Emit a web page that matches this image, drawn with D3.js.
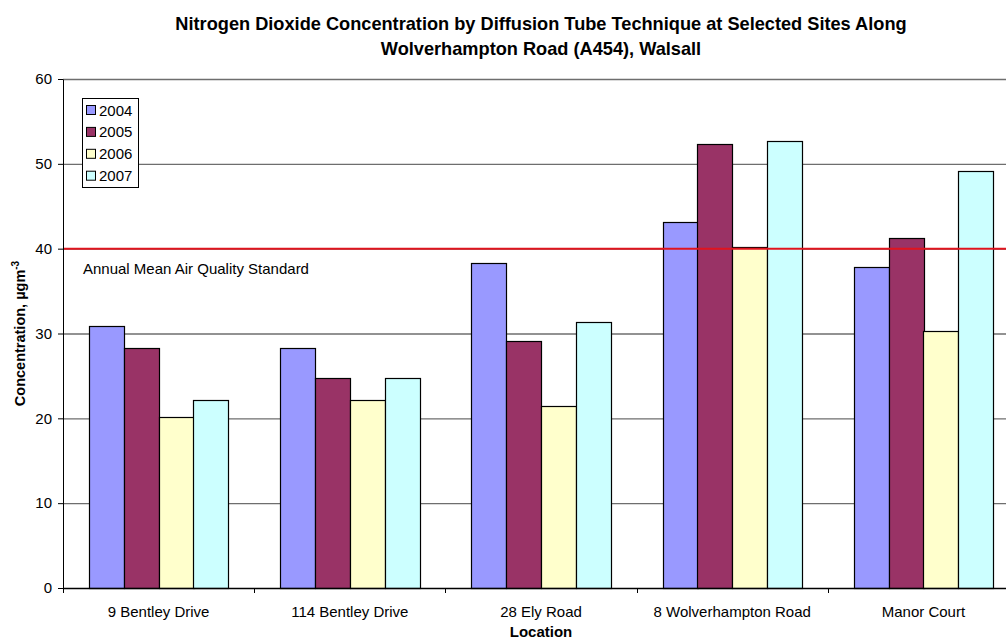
<!DOCTYPE html>
<html>
<head>
<meta charset="utf-8">
<script src="https://cdn.jsdelivr.net/npm/d3@7"></script>
<style>
  body { margin: 0; background: #fff; }
  text { font-family: "Liberation Sans", Arial, sans-serif; fill: #000; }
</style>
</head>
<body>
<div id="chart"></div>
<script>
// chart data
var locations = ['9 Bentley Drive', '114 Bentley Drive', '28 Ely Road', '8 Wolverhampton Road', 'Manor Court']
var years = ['2004', '2005', '2006', '2007']
var values2004 = [30.9, 28.3, 38.3, 43.1, 37.8]
var values2005 = [28.3, 24.8, 29.1, 52.3, 41.2]
var values2006 = [20.2, 22.2, 21.5, 40.2, 30.3]
var values2007 = [22.2, 24.7, 31.3, 52.7, 49.2]
var yTicks = [0, 10, 20, 30, 40, 50, 60]
var standardValue = 40
var standardLabel = 'Annual Mean Air Quality Standard'

var colors = ['#9999ff', '#993366', '#ffffcc', '#ccffff']
var seriesValues = [values2004, values2005, values2006, values2007]

var fullWidth = 1006;
var fullHeight = 640;
var margin = {top: 79, left: 63};
var width = 956;   // plot runs past the right edge of the picture
var height = 509;

var svg = d3.select('#chart').append('svg')
    .attr('width', fullWidth)
    .attr('height', fullHeight)

var g = svg.append('g')
    .attr('transform', 'translate(' + margin.left + ',' + margin.top + ')')

var x = d3.scaleBand().domain(locations).range([0, width]).paddingInner(0).paddingOuter(0)
var bandWidth = x.bandwidth()
var barWidth = bandWidth / 5.5
var xInner = d3.scaleBand().domain(years).range([barWidth * 0.75, bandWidth - barWidth * 0.75])
var y = d3.scaleLinear().domain([0, 60]).range([height, 0])

// gridlines
g.selectAll('.grid').data(yTicks.filter(function(d) { return d > 0 }))
  .enter().append('line')
    .attr('class', 'grid')
    .attr('x1', 0)
    .attr('x2', width)
    .attr('y1', function(d) { return y(d) + 0.5 })
    .attr('y2', function(d) { return y(d) + 0.5 })
    .attr('stroke', '#6e6e6e')
    .attr('stroke-width', 1.3)

// bars
var rows = []
for (var i = 0; i < locations.length; i++) {
  for (var s = 0; s < years.length; s++) {
    rows.push({loc: locations[i], year: years[s], value: seriesValues[s][i], color: colors[s]})
  }
}
g.selectAll('.bar').data(rows)
  .enter().append('rect')
    .attr('class', 'bar')
    .attr('x', function(d) { return Math.round(x(d.loc) + xInner(d.year)) + 0.5 })
    .attr('y', function(d) { return Math.round(y(d.value)) + 0.5 })
    .attr('width', Math.round(xInner.bandwidth()))
    .attr('height', function(d) { return Math.round(height - y(d.value)) })
    .attr('fill', function(d) { return d.color })
    .attr('stroke', '#000')
    .attr('stroke-width', 1.2)

// standard line
g.append('line')
  .attr('x1', 0)
  .attr('x2', width)
  .attr('y1', y(standardValue))
  .attr('y2', y(standardValue))
  .attr('stroke', '#e0141e')
  .attr('stroke-width', 2)

g.append('text')
  .attr('x', 20)
  .attr('y', y(standardValue) + 25)
  .style('font-size', '15px')
  .text(standardLabel)

// axes
var yAxis = g.append('g')
  .call(d3.axisLeft(y).tickValues(yTicks).tickSize(5).tickPadding(6).tickSizeOuter(0))
yAxis.selectAll('text').style('font-size', '15px')
yAxis.select('.domain').attr('stroke', '#000')

var xAxis = g.append('g')
  .attr('transform', 'translate(0,' + height + ')')
  .call(d3.axisBottom(x).tickSize(0).tickPadding(18))
xAxis.selectAll('text').style('font-size', '15px')
xAxis.select('.domain').attr('stroke', '#000').attr('stroke-width', 1.5)
xAxis.selectAll('.xtick').data(locations)
  .enter().append('line')
    .attr('class', 'xtick')
    .attr('x1', function(d) { return Math.round(x(d)) + 0.5 })
    .attr('x2', function(d) { return Math.round(x(d)) + 0.5 })
    .attr('y1', 0)
    .attr('y2', 5)
    .attr('stroke', '#000')

// titles
svg.append('text')
  .attr('x', margin.left + width / 2)
  .attr('y', 30)
  .attr('text-anchor', 'middle')
  .style('font-size', '18.2px')
  .style('font-weight', 'bold')
  .text('Nitrogen Dioxide Concentration by Diffusion Tube Technique at Selected Sites Along')
svg.append('text')
  .attr('x', margin.left + width / 2)
  .attr('y', 55)
  .attr('text-anchor', 'middle')
  .style('font-size', '18.2px')
  .style('font-weight', 'bold')
  .text('Wolverhampton Road (A454), Walsall')

svg.append('text')
  .attr('x', margin.left + width / 2)
  .attr('y', 637)
  .attr('text-anchor', 'middle')
  .style('font-size', '15px')
  .style('font-weight', 'bold')
  .text('Location')

var yTitle = svg.append('text')
  .attr('transform', 'translate(25,' + (margin.top + height / 2) + ') rotate(-90)')
  .attr('text-anchor', 'middle')
  .style('font-size', '14.5px')
  .style('font-weight', 'bold')
yTitle.append('tspan').text('Concentration, µgm')
yTitle.append('tspan').attr('dy', -6).style('font-size', '10px').text('-3')

// legend
var legend = svg.append('g').attr('transform', 'translate(82,98)')
legend.append('rect')
  .attr('x', 0.5).attr('y', 0.5)
  .attr('width', 56).attr('height', 89)
  .attr('fill', '#fff')
  .attr('stroke', '#000')
var items = legend.selectAll('.item').data(years)
  .enter().append('g')
    .attr('class', 'item')
    .attr('transform', function(d, i) { return 'translate(0,' + (12 + i * 21.9) + ')' })
items.append('rect')
  .attr('x', 4.5).attr('y', -4.5)
  .attr('width', 9).attr('height', 9)
  .attr('fill', function(d, i) { return colors[i] })
  .attr('stroke', '#000')
items.append('text')
  .attr('x', 17)
  .attr('y', 5.5)
  .style('font-size', '15px')
  .text(function(d) { return d })
</script>
</body>
</html>
